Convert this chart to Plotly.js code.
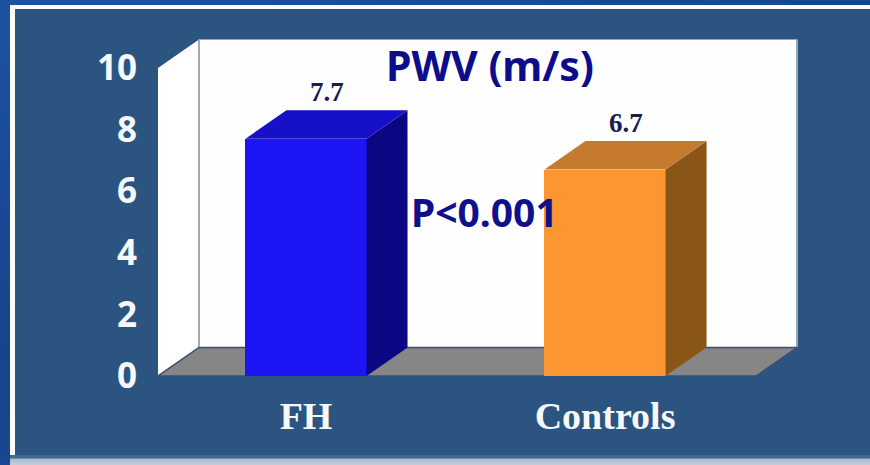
<!DOCTYPE html>
<html>
<head>
<meta charset="utf-8">
<script src="https://cdn.plot.ly/plotly-3.0.1.min.js"></script>
<style>
  html, body { margin: 0; padding: 0; width: 870px; height: 465px; overflow: hidden; }
  body { background: linear-gradient(160deg, #1d52a3 0%, #17448e 45%, #1c4f9e 100%); position: relative; }
  #slide { position: absolute; left: 10px; top: 5px; width: 880px; height: 450px; box-sizing: border-box;
           border-left: 5px solid #fbfcfe; border-top: 4px solid #fbfcfe; background: #2b5580; }
  #chart { position: absolute; left: 15px; top: 9px; width: 855px; height: 446px; }
  #foot { position: absolute; left: 10px; top: 455px; width: 880px; height: 10px;
          background: linear-gradient(#3f6791 0px, #3f6791 3px, #a9b9cd 4px, #c3cedc 10px); }
</style>
</head>
<body>
<div id="slide"></div>
<div id="chart"></div>
<div id="foot"></div>
<script>
// Pulse wave velocity by group
const categories = ['FH', 'Controls'];
const pwv = [7.7, 6.7];
const yTickValues = [0, 2, 4, 6, 8, 10];
const yTickLabels = ['0', '2', '4', '6', '8', '10'];
const pValueText = 'P<0.001';
const titleText = 'PWV (m/s)';

// Face colours for each bar: front, side, top
const frontColors = ['#1d15f3', '#fc9632'];
const sideColors  = ['#0b0783', '#8a5617'];
const topColors   = ['#1610c9', '#c57a2d'];

// 3-D box geometry (axis units)
const BAR_W = 0.405;      // bar width on the x axis
const DX = 0.137;         // depth offset along x
const DY = 0.925;         // depth offset along y
const X_LEFT = -0.495;    // front-left edge of the floor
const X_RIGHT = 1.505;    // front-right edge of the floor
const WALL_TOP = 10;      // wall height

const xPos = categories.map((_, i) => i);

const traces = [];

// Front faces of the bars
traces.push({
  type: 'bar',
  x: xPos,
  y: pwv,
  width: BAR_W,
  marker: { color: frontColors, line: { width: 0 } },
  hoverinfo: 'skip',
  showlegend: false
});

// Side and top faces, built from the same values
pwv.forEach((v, i) => {
  const l = xPos[i] - BAR_W / 2;
  const r = xPos[i] + BAR_W / 2;
  traces.push({
    type: 'scatter', mode: 'lines', fill: 'toself',
    x: [r, r, r + DX, r + DX, r],
    y: [0, v, v + DY, DY, 0],
    fillcolor: sideColors[i], line: { width: 0, color: sideColors[i] },
    hoverinfo: 'skip', showlegend: false
  });
  traces.push({
    type: 'scatter', mode: 'lines', fill: 'toself',
    x: [l, l + DX, r + DX, r, l],
    y: [v, v + DY, v + DY, v, v],
    fillcolor: topColors[i], line: { width: 0, color: topColors[i] },
    hoverinfo: 'skip', showlegend: false
  });
});

// Walls and floor of the box
const shapes = [
  { type: 'path', layer: 'below',
    path: `M ${X_LEFT + DX} ${DY} L ${X_LEFT + DX} ${WALL_TOP + DY} L ${X_RIGHT + DX} ${WALL_TOP + DY} L ${X_RIGHT + DX} ${DY} Z`,
    fillcolor: '#fefefe', line: { width: 0 } },
  { type: 'path', layer: 'below',
    path: `M ${X_LEFT} 0 L ${X_LEFT} ${WALL_TOP} L ${X_LEFT + DX} ${WALL_TOP + DY} L ${X_LEFT + DX} ${DY} Z`,
    fillcolor: '#ffffff', line: { width: 0 } },
  { type: 'line', layer: 'below',
    x0: X_LEFT + DX, x1: X_LEFT + DX, y0: DY, y1: WALL_TOP + DY,
    line: { color: '#a4a8ad', width: 2 } },
  { type: 'line', layer: 'below',
    x0: X_RIGHT + DX, x1: X_RIGHT + DX, y0: DY, y1: WALL_TOP + DY,
    line: { color: '#9aa6b4', width: 2 } },
  { type: 'path', layer: 'below',
    path: `M ${X_LEFT} 0 L ${X_LEFT + DX} ${DY} L ${X_RIGHT + DX} ${DY} L ${X_RIGHT} 0 Z`,
    fillcolor: '#868686', line: { color: '#3c4f6e', width: 1.5 } }
];

const valueFont = { family: '"Liberation Serif", "Times New Roman", serif', size: 27, color: '#1b1b55', weight: 'bold' };
const annotations = pwv.map((v, i) => ({
  x: xPos[i] + DX / 2, y: v + DY, xref: 'x', yref: 'y',
  text: v.toFixed(1), showarrow: false, yanchor: 'bottom', yshift: 1,
  font: valueFont
}));

annotations.push({
  x: 0.517, y: 0.898, xref: 'paper', yref: 'paper',
  text: titleText, showarrow: false, xanchor: 'center', yanchor: 'middle',
  font: { family: '"Comic Sans MS", "Noto Sans", sans-serif', size: 41, color: '#0d0d8c', weight: 'bold' }
});
annotations.push({
  x: 0.509, y: 0.474, xref: 'paper', yref: 'paper',
  text: pValueText, showarrow: false, xanchor: 'center', yanchor: 'middle',
  font: { family: '"Comic Sans MS", "Noto Sans", sans-serif', size: 39, color: '#10108c', weight: 'bold' }
});

const layout = {
  width: 855, height: 446,
  margin: { l: 143, r: 70, t: 21, b: 79, pad: 0 },
  paper_bgcolor: 'rgba(0,0,0,0)',
  plot_bgcolor: 'rgba(0,0,0,0)',
  showlegend: false,
  bargap: 0,
  xaxis: {
    range: [-0.495, 1.652], fixedrange: true,
    tickvals: xPos, ticktext: categories,
    showgrid: false, zeroline: false, showline: false, ticks: '',
    ticklabelstandoff: 14,
    tickfont: { family: '"Liberation Serif", "Times New Roman", serif', size: 38, color: '#f6f8fc', weight: 'bold' }
  },
  yaxis: {
    range: [0, 11.23], fixedrange: true,
    tickvals: yTickValues, ticktext: yTickLabels,
    showgrid: false, zeroline: false, showline: false, ticks: '',
    ticklabelstandoff: 20,
    tickfont: { family: '"Comic Sans MS", "Noto Sans", sans-serif', size: 35, color: '#f6f8fc', weight: 'bold' }
  },
  shapes: shapes,
  annotations: annotations
};

Plotly.newPlot('chart', traces, layout, { displayModeBar: false, staticPlot: true });
</script>
</body>
</html>
